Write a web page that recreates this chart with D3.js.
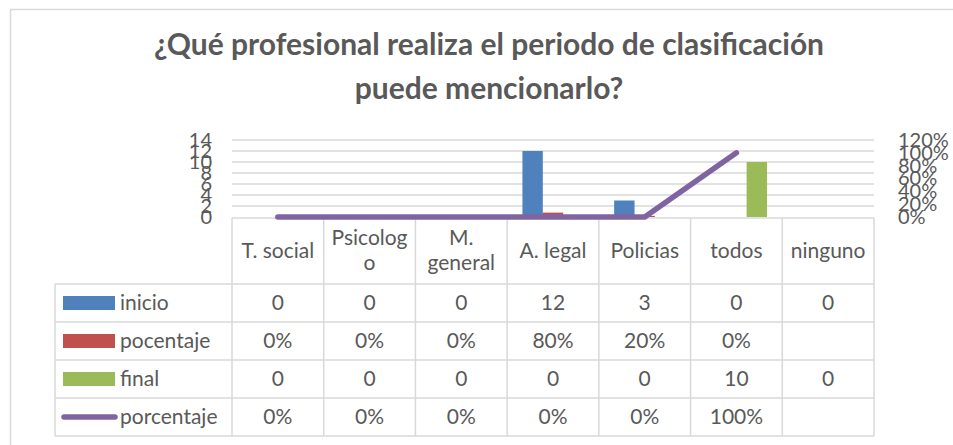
<!DOCTYPE html>
<html>
<head>
<meta charset="utf-8">
<script src="https://cdn.jsdelivr.net/npm/d3@7"></script>
<style>
  body { margin: 0; background: #fff; }
  text { font-family: Lato, "Open Sans", sans-serif; fill: #595959; }
</style>
</head>
<body>
<div id="chart"></div>
<script>
// data
var categories = ["T. social", "Psicologo", "M. general", "A. legal", "Policias", "todos", "ninguno"];
var headerLines = [["T. social"], ["Psicolog", "o"], ["M.", "general"], ["A. legal"], ["Policias"], ["todos"], ["ninguno"]];
var inicio = [0, 0, 0, 12, 3, 0, 0];
var pocentaje = [0, 0, 0, 0.8, 0.2, 0, null];
var final = [0, 0, 0, 0, 0, 10, 0];
var porcentaje = [0, 0, 0, 0, 0, 1, null];
var leftTicks = [0, 2, 4, 6, 8, 10, 12, 14];
var rightTicks = [0, 0.2, 0.4, 0.6, 0.8, 1, 1.2];
var titleLines = ["¿Qué profesional realiza el periodo de clasificación", "puede mencionarlo?"];

var barSeries = [
  {name: "inicio", values: inicio, color: "#4F81BD"},
  {name: "pocentaje", values: pocentaje, color: "#C0504D"},
  {name: "final", values: final, color: "#9BBB59"}
];
var lineSeries = {name: "porcentaje", values: porcentaje, color: "#8064A2"};

var W = 953, H = 445;
var plot = {left: 232, right: 874, top: 140, bottom: 217};
var rowH = 38, headerBottom = 284, legendLeft = 55;
var gridColor = "#d9d9d9";

var svg = d3.select("#chart").append("svg")
    .attr("width", W)
    .attr("height", H);

// outer chart border
svg.append("rect")
    .attr("x", 10.5).attr("y", 9.5)
    .attr("width", W + 10).attr("height", H + 10)
    .attr("fill", "none")
    .attr("stroke", gridColor)
    .attr("stroke-width", 1.5);

// title
svg.append("g").selectAll("text")
    .data(titleLines)
    .enter().append("text")
    .attr("x", 489)
    .attr("y", function(d, i) { return 55 + i * 44; })
    .attr("text-anchor", "middle")
    .style("font-size", "30px")
    .style("font-weight", "bold")
    .text(function(d) { return d; });

var x = d3.scaleBand()
    .domain(categories)
    .range([plot.left, plot.right]);

var x1 = d3.scaleBand()
    .domain(barSeries.map(function(d) { return d.name; }))
    .range([0, x.bandwidth() / 1.5]);

var y = d3.scaleLinear().domain([0, 14]).range([plot.bottom, plot.top]);
var y2 = d3.scaleLinear().domain([0, 1.2]).range([plot.bottom, plot.top]);

// gridlines
svg.append("g").selectAll("line")
    .data(leftTicks.slice(1))
    .enter().append("line")
    .attr("x1", plot.left).attr("x2", plot.right)
    .attr("y1", function(d) { return y(d); })
    .attr("y2", function(d) { return y(d); })
    .attr("stroke", gridColor)
    .attr("stroke-width", 1.5);

// axes (labels only, like the original)
var yAxis = svg.append("g")
    .attr("transform", "translate(" + 212 + ",0)")
    .call(d3.axisLeft(y).tickValues(leftTicks).tickSize(0).tickPadding(0));
yAxis.select(".domain").remove();
yAxis.selectAll("text").style("font-size", "20px").attr("fill", "#595959");

var yAxis2 = svg.append("g")
    .attr("transform", "translate(" + 898 + ",0)")
    .call(d3.axisRight(y2).tickValues(rightTicks).tickFormat(d3.format(".0%")).tickSize(0).tickPadding(0));
yAxis2.select(".domain").remove();
yAxis2.selectAll("text").style("font-size", "20px").attr("fill", "#595959");

// bars
var groups = svg.append("g").selectAll("g")
    .data(barSeries)
    .enter().append("g")
    .attr("fill", function(d) { return d.color; });

groups.selectAll("rect")
    .data(function(s) {
      return s.values.map(function(v, i) { return {name: s.name, cat: categories[i], v: v}; })
        .filter(function(d) { return d.v; });
    })
    .enter().append("rect")
    .attr("x", function(d) { return x(d.cat) + x.bandwidth() / 6 + x1(d.name); })
    .attr("y", function(d) { return y(d.v); })
    .attr("width", x1.bandwidth())
    .attr("height", function(d) { return y(0) - y(d.v); });

// table grid
var table = svg.append("g")
    .attr("stroke", gridColor)
    .attr("stroke-width", 1.5)
    .attr("fill", "none");
var nRows = 4;
var tableBottom = headerBottom + nRows * rowH;
// horizontal lines
table.append("line").attr("x1", plot.left).attr("x2", plot.right).attr("y1", plot.bottom + 1).attr("y2", plot.bottom + 1);
d3.range(nRows + 1).forEach(function(r) {
  var yy = headerBottom + r * rowH;
  table.append("line").attr("x1", legendLeft).attr("x2", plot.right).attr("y1", yy).attr("y2", yy);
});
// vertical lines
table.append("line").attr("x1", legendLeft).attr("x2", legendLeft).attr("y1", headerBottom).attr("y2", tableBottom);
categories.forEach(function(c) {
  table.append("line").attr("x1", x(c)).attr("x2", x(c)).attr("y1", plot.bottom + 1).attr("y2", tableBottom);
});
table.append("line").attr("x1", plot.right).attr("x2", plot.right).attr("y1", plot.bottom + 1).attr("y2", tableBottom);

// line series (drawn over the table header edge)
var line = d3.line()
    .defined(function(d) { return d != null; })
    .x(function(d, i) { return x(categories[i]) + x.bandwidth() / 2; })
    .y(function(d) { return y2(d); });

svg.append("path")
    .datum(lineSeries.values)
    .attr("d", line)
    .attr("fill", "none")
    .attr("stroke", lineSeries.color)
    .attr("stroke-width", 5.5)
    .attr("stroke-linecap", "round")
    .attr("stroke-linejoin", "round");

// header labels
var header = svg.append("g").selectAll("g")
    .data(headerLines)
    .enter().append("g");
header.selectAll("text")
    .data(function(lines, i) { return lines.map(function(t, j) { return {t: t, i: i, j: j, n: lines.length}; }); })
    .enter().append("text")
    .attr("x", function(d) { return x(categories[d.i]) + x.bandwidth() / 2; })
    .attr("y", function(d) { return (plot.bottom + headerBottom) / 2 + (d.j - (d.n - 1) / 2) * 25; })
    .attr("dy", "0.35em")
    .attr("text-anchor", "middle")
    .style("font-size", "21px")
    .text(function(d) { return d.t; });

// table rows
var rows = [
  {name: "inicio", values: inicio, color: "#4F81BD", fmt: d3.format("d"), type: "bar"},
  {name: "pocentaje", values: pocentaje, color: "#C0504D", fmt: d3.format(".0%"), type: "bar"},
  {name: "final", values: final, color: "#9BBB59", fmt: d3.format("d"), type: "bar"},
  {name: "porcentaje", values: porcentaje, color: "#8064A2", fmt: d3.format(".0%"), type: "line"}
];

var rowG = svg.append("g").selectAll("g")
    .data(rows)
    .enter().append("g")
    .attr("transform", function(d, i) { return "translate(0," + (headerBottom + i * rowH + rowH / 2) + ")"; });

rowG.filter(function(d) { return d.type === "bar"; })
    .append("rect")
    .attr("x", 63).attr("y", -7)
    .attr("width", 52).attr("height", 14)
    .attr("fill", function(d) { return d.color; });

rowG.filter(function(d) { return d.type === "line"; })
    .append("line")
    .attr("x1", 64).attr("x2", 115)
    .attr("stroke", function(d) { return d.color; })
    .attr("stroke-width", 5.5)
    .attr("stroke-linecap", "round");

rowG.append("text")
    .attr("x", 120)
    .attr("dy", "0.35em")
    .style("font-size", "21px")
    .text(function(d) { return d.name; });

rowG.selectAll("text.val")
    .data(function(r) { return r.values.map(function(v, i) { return {v: v, i: i, fmt: r.fmt}; }).filter(function(d) { return d.v != null; }); })
    .enter().append("text")
    .attr("class", "val")
    .attr("x", function(d) { return x(categories[d.i]) + x.bandwidth() / 2; })
    .attr("dy", "0.35em")
    .attr("text-anchor", "middle")
    .style("font-size", "21px")
    .text(function(d) { return d.fmt(d.v); });
</script>
</body>
</html>
